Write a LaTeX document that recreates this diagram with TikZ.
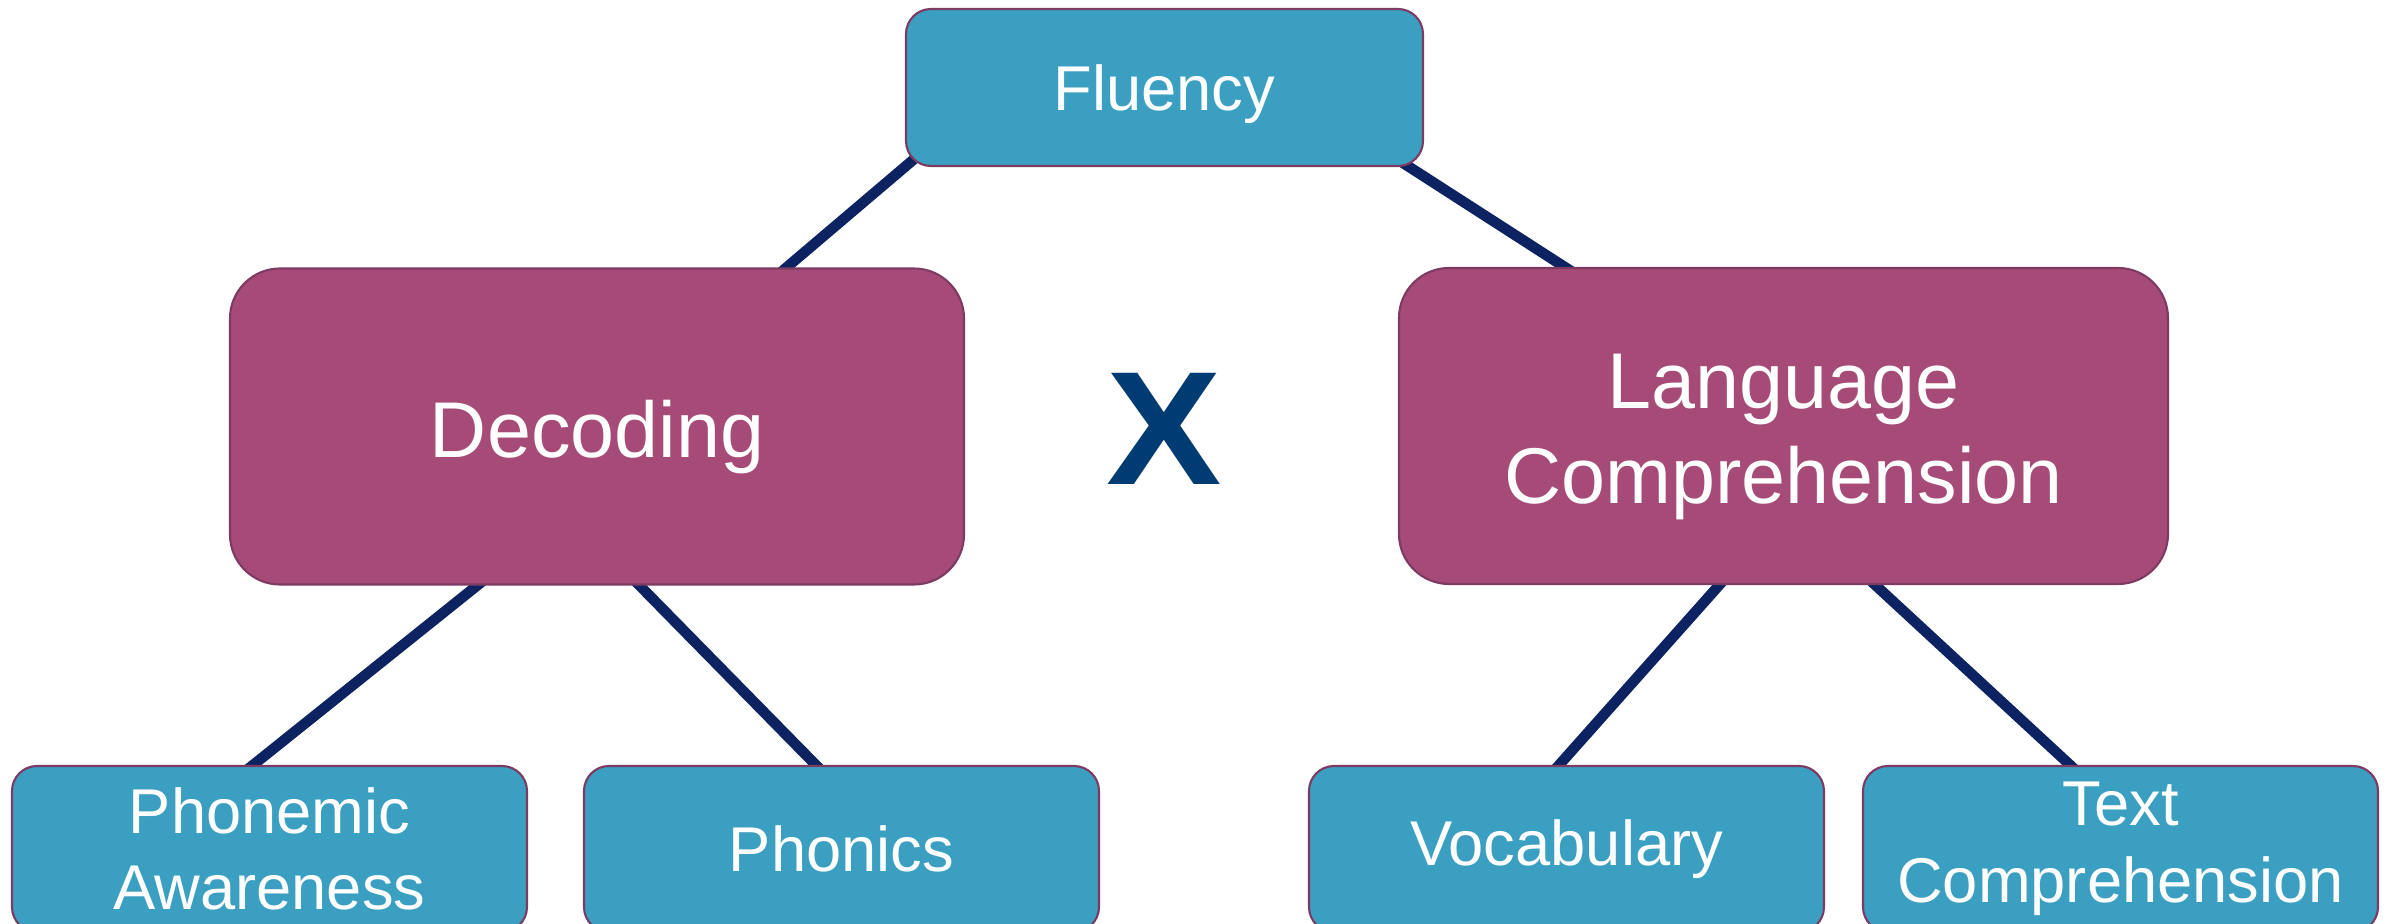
\documentclass[tikz,border=0pt]{standalone}
\usepackage{fontspec}
\setmainfont{Liberation Sans}
\usetikzlibrary{backgrounds}
\definecolor{tealbox}{HTML}{3A9FC0}
\definecolor{plumbox}{HTML}{A64B77}
\definecolor{plumedge}{HTML}{7D3B63}
\definecolor{navyline}{HTML}{0D2260}
\definecolor{navyx}{HTML}{003B71}
\tikzset{
  smallbox/.style={draw=plumedge, line width=0.6pt, fill=tealbox, rounded corners=0.25cm,
    minimum width=5.15cm, minimum height=1.66cm, inner sep=0pt},
  smalltext/.style={text=white, align=center, font=\fontsize{18}{21.8}\selectfont},
  bigbox/.style={draw=plumedge, line width=0.6pt, fill=plumbox, rounded corners=0.5cm,
    minimum height=3.16cm, inner sep=0pt},
  bigtext/.style={text=white, align=center, yshift=-0.11cm, font=\fontsize{22.5}{27}\selectfont},
  link/.style={draw=navyline, line width=3pt, shorten <=-0.3cm, shorten >=-0.3cm}
}
\begin{document}
\begin{tikzpicture}
\useasboundingbox (0,0) rectangle (23.89,-9.24);

% top
\node[smallbox, minimum height=1.57cm, minimum width=5.17cm,
  label={[smalltext, yshift=-0.07cm]center:Fluency}] (flu) at (11.645,-0.875) {};

% middle
\node[bigbox, minimum width=7.34cm, label={[bigtext]center:Decoding}] (dec) at (5.97,-4.265) {};
\node[bigbox, minimum width=7.69cm, label={[bigtext]center:{Language\\Comprehension}}] (lang) at (17.835,-4.26) {};
\node[text=navyx, font=\fontsize{46}{46}\selectfont\bfseries, xscale=1.07] (times) at (11.64,-4.29) {X};

% bottom (cut by the page edge)
\node[smallbox, label={[smalltext]center:{Phonemic\\Awareness}}] (pa) at (2.695,-8.49) {};
\node[smallbox, label={[smalltext]center:Phonics}] (phon) at (8.415,-8.49) {};
\node[smallbox, label={[smalltext]center:Vocabulary}] (voc) at (15.665,-8.49) {};
\node[smallbox, label={[smalltext]center:{Text\\Comprehension}}] (tc) at (21.205,-8.49) {};

\begin{scope}[on background layer]
\draw[link] (flu.197.6) -- (dec.40);
\draw[link] (flu.342.5) -- (lang.144.3);
\draw[link] (dec.233.7) -- (pa.101);
\draw[link] (dec.285.6) -- (phon.107);
\draw[link] (lang.248) -- (voc.95);
\draw[link] (lang.300) -- (tc.121);
\end{scope}
\end{tikzpicture}
\end{document}
